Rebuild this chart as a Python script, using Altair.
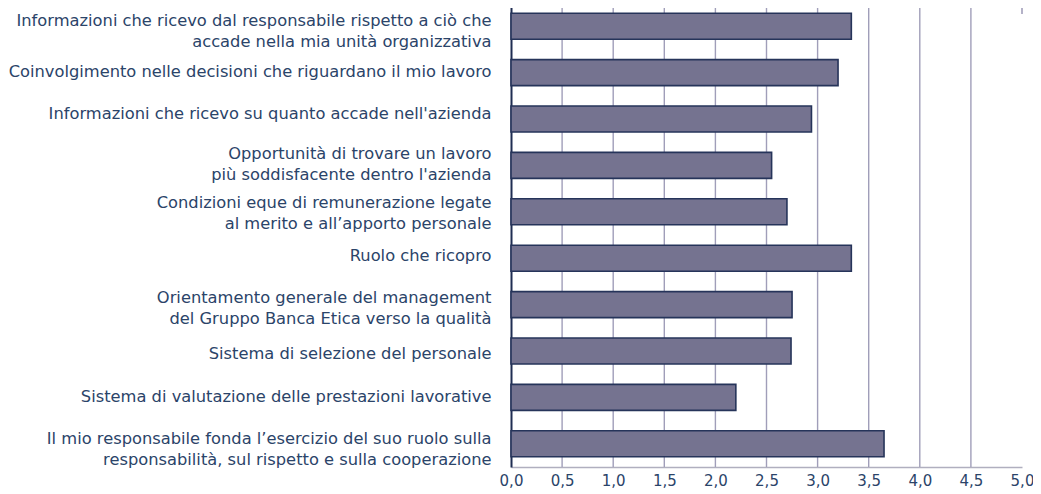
import json
import altair as alt
import pandas as pd

categories = [
    "Informazioni che ricevo dal responsabile rispetto a ciò che|accade nella mia unità organizzativa",
    "Coinvolgimento nelle decisioni che riguardano il mio lavoro",
    "Informazioni che ricevo su quanto accade nell'azienda",
    "Opportunità di trovare un lavoro|più soddisfacente dentro l'azienda",
    "Condizioni eque di remunerazione legate|al merito e all’apporto personale",
    "Ruolo che ricopro",
    "Orientamento generale del management|del Gruppo Banca Etica verso la qualità",
    "Sistema di selezione del personale",
    "Sistema di valutazione delle prestazioni lavorative",
    "Il mio responsabile fonda l’esercizio del suo ruolo sulla|responsabilità, sul rispetto e sulla cooperazione",
]
values = [3.33, 3.20, 2.94, 2.55, 2.70, 3.33, 2.75, 2.74, 2.20, 3.65]
tick_values = [0.0, 0.5, 1.0, 1.5, 2.0, 2.5, 3.0, 3.5, 4.0, 4.5, 5.0]
grid_values = [0.5, 1.0, 1.5, 2.0, 2.5, 3.0, 3.5, 4.0, 4.5]
stub_values = [5.0]

# styling: vertical nudges of individual category labels (pixels)
label_nudge = [-5, -1, -5, -11, -9, -2, -6.5, 3, 0, -4.5]

df = pd.DataFrame({"cat": categories, "val": values})
grid_df = pd.DataFrame({"g": grid_values})
stub_df = pd.DataFrame({"g": stub_values})

TEXT = "#2b4469"
FONT = "DejaVu Sans"
xscale = alt.Scale(domain=[0, 5], nice=False, zero=True)

offset_conditions = [
    {"test": "datum.value === " + json.dumps(c), "value": n}
    for c, n in zip(categories, label_nudge)
    if n != 0
]

xaxis = alt.Axis(
    title=None,
    values=tick_values,
    grid=False,
    ticks=False,
    domainColor="#b0afbf",
    domainWidth=1.5,
    labelFlush=False,
    labelExpr="replace(format(datum.value, '.1f'), '.', ',')",
    labelFont=FONT,
    labelFontSize=15,
    labelColor=TEXT,
    labelPadding=6,
)

grid = alt.Chart(grid_df).mark_rule(color="#a09eb9", strokeWidth=1.4).encode(
    x=alt.X("g:Q", scale=xscale, axis=xaxis)
)
stub = alt.Chart(stub_df).mark_rule(color="#b4b2c8", strokeWidth=2).encode(
    x=alt.X("g:Q", scale=xscale, axis=xaxis),
    y=alt.value(0),
    y2=alt.value(11),
)

bars = alt.Chart(df).mark_bar(
    color="#757390", stroke="#26345a", strokeWidth=1.6
).encode(
    x=alt.X("val:Q", scale=xscale, axis=xaxis),
    y=alt.Y(
        "cat:N",
        sort=None,
        scale=alt.Scale(paddingInner=0.44, paddingOuter=0.22),
        axis=alt.Axis(
            title=None,
            ticks=False,
            domainColor="#1f2d52",
            domainWidth=2,
            labelExpr="split(datum.label, '|')",
            labelFont=FONT,
            labelFontSize=16.3,
            labelColor=TEXT,
            labelLimit=700,
            labelPadding=20,
            labelLineHeight=21,
            labelAlign="right",
            labelOffset={"condition": offset_conditions, "value": 0},
        ),
    ),
)

chart = (
    alt.layer(grid, stub, bars)
    .properties(
        width=511,
        height=464,
        autosize=alt.AutoSizeParams(type="none"),
        padding={"left": 503, "top": -5, "right": 11, "bottom": 27},
        background="white",
    )
    .configure_view(stroke=None)
)

chart.save("out.html", embed_options={"renderer": "svg", "actions": False})
